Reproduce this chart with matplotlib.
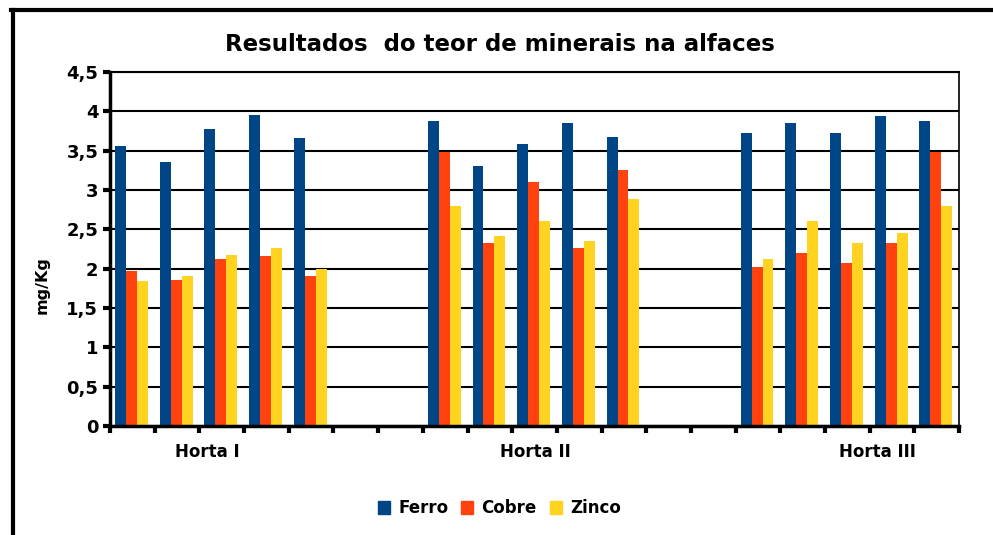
import numpy as np
import matplotlib.pyplot as plt
from matplotlib.patches import Patch
from matplotlib.lines import Line2D

hortas = ["Horta I", "Horta II", "Horta III"]
ferro = [[3.56, 3.35, 3.77, 3.95, 3.66],
         [3.88, 3.31, 3.59, 3.85, 3.67],
         [3.73, 3.85, 3.73, 3.94, 3.88]]
cobre = [[1.97, 1.85, 2.12, 2.16, 1.91],
         [3.48, 2.33, 3.10, 2.26, 3.25],
         [2.02, 2.20, 2.07, 2.33, 3.48]]
zinco = [[1.84, 1.91, 2.17, 2.26, 1.99],
         [2.80, 2.41, 2.60, 2.35, 2.89],
         [2.12, 2.60, 2.33, 2.45, 2.80]]
yticks = [0, 0.5, 1, 1.5, 2, 2.5, 3, 3.5, 4, 4.5]
ytick_labels = ["0", "0,5", "1", "1,5", "2", "2,5", "3", "3,5", "4", "4,5"]

cores = {"Ferro": "#004586", "Cobre": "#ff420e", "Zinco": "#ffd320"}

plt.rcParams['font.family'] = ['DejaVu Sans']
plt.rcParams['font.weight'] = 'bold'

fig = plt.figure(figsize=(9.93, 5.35), dpi=100)
ax = fig.add_axes([0.1108, 0.2037, 0.855, 0.6617])

w = 0.245
inicio = [0, 7, 14]
for g in range(3):
    x = inicio[g] + np.arange(5)
    ax.bar(x - w - 0.02, ferro[g], w, color=cores["Ferro"], zorder=3)
    ax.bar(x - 0.02, cobre[g], w, color=cores["Cobre"], zorder=3)
    ax.bar(x + w - 0.02, zinco[g], w, color=cores["Zinco"], zorder=3)

ax.set_xlim(-0.5, 18.5)
ax.set_ylim(0, 4.5)
ax.set_yticks(yticks)
ax.set_yticklabels(ytick_labels, fontsize=13, fontweight='bold')
ax.set_xticks(np.arange(-0.5, 19, 1))
ax.set_xticklabels([])
ax.tick_params(axis='both', direction='out', length=5, width=3, color='black')
ax.grid(axis='y', color='black', linewidth=1.5, zorder=1)
ax.set_axisbelow(True)
ax.spines['left'].set_linewidth(2.5)
ax.spines['bottom'].set_linewidth(2.5)
ax.spines['right'].set_linewidth(1.2)
ax.spines['top'].set_linewidth(1.5)
ax.spines['bottom'].set_zorder(4)

pos_rotulo = [1.67, 9.03, 16.68]
for nome, px in zip(hortas, pos_rotulo):
    ax.text(px, -0.073, nome, transform=ax.get_xaxis_transform(),
            ha='center', va='center', fontsize=12, fontweight='bold')

fig.text(0.503, 0.916, "Resultados  do teor de minerais na alfaces",
         ha='center', va='center', fontsize=16.5, fontweight='bold')
fig.text(0.042, 0.467, "mg/Kg", rotation=90, ha='center', va='center',
         fontsize=11.5, fontweight='bold')

handles = [Patch(color=c, label=k) for k, c in cores.items()]
fig.legend(handles=handles, loc='center', bbox_to_anchor=(0.503, 0.05), ncol=3,
           frameon=False, handlelength=0.7, handleheight=0.8, handletextpad=0.5,
           columnspacing=0.8, prop={'size': 12, 'weight': 'bold'})

# moldura externa
fig.add_artist(Line2D([0.013, 0.013], [0.0, 0.981], color='black', linewidth=3,
                      transform=fig.transFigure))
fig.add_artist(Line2D([0.0115, 1.0], [0.981, 0.981], color='black', linewidth=3,
                      transform=fig.transFigure))

fig.savefig("out.png", dpi=100)
